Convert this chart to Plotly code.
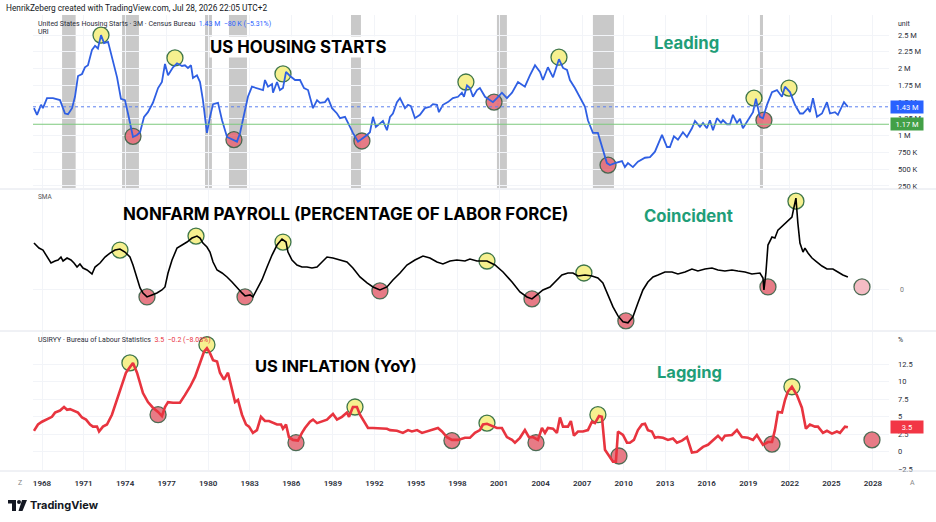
import plotly.graph_objects as go
from plotly.subplots import make_subplots

# ---------------- DATA ----------------
housing_years = [1967.42,1967.64,1967.93,1968.07,1968.36,1968.79,1969.30,1969.66,1969.88,1970.17,1970.38,1970.60,1970.89,1971.10,1971.32,1971.61,1971.83,1972.04,1972.26,1972.48,1972.77,1973.13,1973.42,1973.70,1973.99,1974.21,1974.50,1974.57,1974.86,1975.08,1975.37,1975.65,1976.01,1976.38,1976.66,1976.88,1977.10,1977.46,1977.75,1978.11,1978.32,1978.54,1978.76,1978.90,1979.19,1979.41,1979.62,1979.91,1980.13,1980.35,1980.71,1981.00,1981.36,1981.72,1982.08,1982.30,1982.51,1982.87,1983.16,1983.52,1983.96,1984.10,1984.32,1984.61,1984.68,1984.97,1985.18,1985.40,1985.62,1985.91,1986.27,1986.63,1986.92,1987.21,1987.57,1987.86,1988.07,1988.43,1988.65,1988.94,1989.30,1989.52,1989.88,1990.24,1990.45,1990.82,1991.18,1991.47,1991.68,1991.90,1992.11,1992.40,1992.62,1992.91,1993.13,1993.34,1993.63,1993.85,1994.21,1994.43,1994.64,1994.93,1995.29,1995.65,1996.01,1996.23,1996.52,1996.66,1996.95,1997.31,1997.67,1998.04,1998.32,1998.47,1998.69,1998.90,1999.12,1999.41,1999.62,1999.99,2000.35,2000.56,2000.85,2001.21,2001.57,2001.94,2002.37,2002.87,2003.23,2003.60,2003.96,2004.17,2004.53,2004.90,2005.33,2005.62,2005.91,2006.12,2006.48,2006.84,2007.21,2007.42,2007.78,2008.14,2008.50,2008.79,2009.01,2009.37,2009.88,2010.09,2010.31,2010.67,2011.03,2011.54,2011.90,2012.26,2012.77,2013.13,2013.34,2013.63,2013.92,2014.28,2014.57,2014.93,2015.15,2015.51,2015.73,2016.01,2016.23,2016.45,2016.74,2017.03,2017.17,2017.46,2017.68,2017.89,2018.18,2018.40,2018.61,2018.97,2019.34,2019.55,2019.84,2020.06,2020.35,2020.71,2021.07,2021.43,2021.65,2022.01,2022.37,2022.73,2022.95,2023.31,2023.45,2023.67,2023.96,2024.32,2024.68,2024.90,2025.26,2025.47,2025.91,2026.19]
housing_values = [1.41,1.31,1.46,1.41,1.56,1.56,1.53,1.33,1.32,1.41,1.58,1.89,1.92,2.02,2.05,2.28,2.34,2.30,2.50,2.38,2.40,2.10,1.87,1.55,1.53,1.33,1.05,0.98,1.01,1.05,1.28,1.35,1.49,1.71,1.80,2.07,1.90,2.02,2.08,2.04,2.05,2.01,2.05,1.86,1.90,1.80,1.53,1.04,1.28,1.47,1.49,1.23,0.98,0.94,0.91,1.04,1.26,1.58,1.73,1.71,1.68,1.83,1.73,1.77,1.64,1.80,1.68,1.71,1.95,1.89,1.83,1.83,1.71,1.68,1.41,1.53,1.49,1.50,1.56,1.41,1.33,1.26,1.28,1.13,1.04,0.91,0.96,1.01,1.05,1.28,1.13,1.19,1.22,1.08,1.28,1.33,1.50,1.56,1.41,1.46,1.44,1.26,1.31,1.41,1.43,1.47,1.46,1.35,1.46,1.50,1.56,1.58,1.64,1.58,1.75,1.71,1.58,1.68,1.71,1.58,1.53,1.50,1.56,1.64,1.56,1.64,1.80,1.73,1.90,2.05,1.95,1.83,2.02,1.87,2.14,2.01,1.98,1.83,1.71,1.58,1.43,1.23,1.04,1.04,0.79,0.59,0.56,0.59,0.62,0.53,0.59,0.53,0.61,0.67,0.68,0.76,1.01,0.83,0.83,0.99,0.94,1.05,0.98,1.11,1.22,1.13,1.19,1.11,1.23,1.08,1.26,1.19,1.23,1.17,1.17,1.31,1.19,1.25,1.11,1.23,1.35,1.55,1.28,1.26,1.46,1.65,1.68,1.58,1.73,1.65,1.46,1.33,1.33,1.41,1.35,1.56,1.28,1.33,1.50,1.33,1.35,1.31,1.50,1.43]
housing_peak_years = [1972.26,1977.60,1985.40,1998.61,2005.33,2019.41,2021.94]
housing_peak_values = [2.50,2.16,1.92,1.80,2.17,1.56,1.71]
housing_trough_years = [1974.57,1981.86,1991.10,2000.64,2008.87,2020.13]
housing_trough_values = [0.99,0.94,0.92,1.50,0.56,1.23]
housing_last = 1.43
housing_ref = 1.17

recession_starts = [1969.45,1973.78,1979.77,1981.50,1990.31,2000.85,2007.78,2019.84]
recession_ends = [1970.43,1975.00,1980.27,1982.80,1991.03,2001.57,2009.30,2020.06]

payroll_years = [1967.42,1967.78,1968.07,1968.36,1968.65,1968.94,1969.16,1969.37,1969.52,1969.81,1970.09,1970.31,1970.53,1970.74,1970.96,1971.25,1971.61,1971.83,1972.19,1972.55,1972.91,1973.27,1973.63,1973.99,1974.35,1974.57,1974.86,1975.08,1975.29,1975.58,1975.94,1976.30,1976.66,1976.88,1977.10,1977.39,1977.75,1978.11,1978.47,1978.83,1979.19,1979.41,1979.62,1979.91,1980.13,1980.35,1980.64,1981.00,1981.36,1981.72,1982.08,1982.44,1982.66,1983.02,1983.23,1983.52,1983.88,1984.25,1984.61,1984.97,1985.33,1985.62,1985.76,1986.05,1986.41,1986.77,1987.13,1987.49,1987.86,1988.22,1988.58,1989.01,1989.52,1990.02,1990.45,1990.96,1991.47,1991.90,1992.40,1992.91,1993.34,1993.85,1994.35,1994.93,1995.51,1996.01,1996.52,1996.95,1997.46,1997.96,1998.54,1998.90,1999.41,2000.13,2000.71,2001.29,2001.94,2002.51,2003.02,2003.38,2003.74,2004.17,2004.68,2005.18,2005.54,2005.98,2006.34,2006.70,2007.21,2007.71,2008.14,2008.50,2008.87,2009.23,2009.59,2009.95,2010.31,2010.67,2011.03,2011.39,2011.75,2012.12,2012.48,2012.98,2013.49,2013.92,2014.43,2014.93,2015.36,2015.87,2016.38,2016.81,2017.31,2017.82,2018.25,2018.76,2019.26,2019.84,2020.06,2020.13,2020.27,2020.42,2020.71,2020.92,2021.14,2021.50,2021.86,2022.15,2022.30,2022.44,2022.58,2022.73,2022.95,2023.09,2023.31,2023.60,2023.96,2024.32,2024.68,2025.11,2025.47,2025.83,2026.19]
payroll_values = [4.7,4.2,4.0,3.3,2.7,2.9,3.0,3.3,2.9,3.2,3.0,2.7,2.3,2.6,2.2,2.0,1.6,2.3,2.7,3.3,3.7,4.0,4.1,3.8,3.3,2.5,1.3,0.2,-0.3,-0.7,-0.5,-0.3,0.0,0.3,1.7,3.0,4.2,4.5,4.8,5.2,5.4,5.2,4.7,4.3,3.8,2.8,2.0,1.7,1.3,0.8,0.2,-0.3,-0.6,-0.5,-0.7,0.0,1.0,2.3,3.5,4.5,5.1,4.8,3.8,3.0,2.5,2.3,2.3,2.2,2.3,2.8,3.3,3.2,3.0,2.8,2.2,1.3,0.7,0.3,0.0,0.3,1.0,1.7,2.5,3.0,3.4,3.2,2.8,2.6,2.9,3.0,2.9,3.1,2.9,2.9,2.5,1.8,0.8,-0.2,-0.7,-0.9,-0.5,0.0,0.3,1.0,1.5,1.7,1.7,1.4,1.5,1.4,1.2,0.7,-0.5,-1.7,-2.6,-3.2,-3.3,-2.7,-1.3,0.0,0.8,1.3,1.5,1.8,1.8,1.6,1.8,2.1,1.9,2.1,2.2,2.0,1.9,2.0,1.9,1.8,1.6,1.7,1.2,0.0,1.7,4.5,5.3,5.2,6.0,6.5,7.0,7.3,8.3,9.2,6.7,4.7,3.8,4.2,3.7,3.2,2.8,2.4,2.1,2.1,1.8,1.5,1.3]
payroll_peak_years = [1973.63,1979.12,1985.40,2000.13,2007.13,2022.44]
payroll_peak_values = [4.0,5.4,4.8,2.9,1.7,8.9]
payroll_trough_years = [1975.58,1982.66,1992.40,2003.38,2010.16,2020.42]
payroll_trough_values = [-0.7,-0.7,-0.1,-0.9,-3.1,0.3]
payroll_proj_years = [2027.21]
payroll_proj_values = [0.3]

inflation_years = [1967.42,1967.71,1968.00,1968.36,1968.72,1968.94,1969.30,1969.59,1969.81,1970.02,1970.31,1970.60,1970.89,1971.18,1971.47,1971.68,1971.97,1972.12,1972.40,1972.69,1973.05,1973.42,1973.78,1974.06,1974.35,1974.57,1974.86,1975.08,1975.29,1975.65,1976.01,1976.38,1976.66,1976.88,1977.10,1977.46,1977.96,1978.32,1978.69,1979.05,1979.41,1979.70,1979.91,1980.13,1980.35,1980.64,1980.85,1981.14,1981.43,1981.72,1981.94,1982.15,1982.44,1982.73,1982.95,1983.23,1983.52,1983.81,1984.10,1984.39,1984.68,1984.97,1985.26,1985.40,1985.62,1985.83,1986.12,1986.48,1986.77,1986.99,1987.35,1987.57,1987.86,1988.22,1988.58,1988.79,1989.01,1989.30,1989.66,1990.02,1990.17,1990.45,1990.74,1990.96,1991.32,1991.54,1991.90,1992.40,1992.91,1993.13,1993.63,1994.06,1994.43,1994.71,1995.08,1995.44,1995.80,1996.23,1996.59,1996.88,1997.24,1997.60,1998.04,1998.54,1998.90,1999.26,1999.62,1999.84,2000.13,2000.49,2000.85,2001.21,2001.57,2001.94,2002.15,2002.51,2002.87,2003.16,2003.45,2003.81,2004.10,2004.32,2004.53,2004.90,2005.18,2005.40,2005.62,2005.98,2006.19,2006.41,2006.70,2007.06,2007.42,2007.71,2007.93,2008.22,2008.43,2008.65,2009.01,2009.23,2009.44,2009.59,2009.95,2010.24,2010.45,2010.74,2011.03,2011.32,2011.54,2011.75,2012.04,2012.26,2012.48,2012.84,2013.20,2013.56,2013.85,2014.21,2014.57,2014.93,2015.29,2015.51,2015.73,2016.09,2016.45,2016.81,2017.10,2017.31,2017.82,2018.18,2018.54,2018.97,2019.34,2019.62,2020.06,2020.42,2020.71,2020.92,2021.14,2021.43,2021.65,2021.86,2022.15,2022.51,2022.87,2023.16,2023.45,2023.81,2024.03,2024.39,2024.68,2025.04,2025.40,2025.62,2025.98,2026.19]
inflation_values = [3.0,3.9,4.3,4.7,5.0,5.6,5.9,6.4,6.0,6.1,5.9,5.6,4.9,4.6,3.9,3.6,3.6,2.9,3.6,3.9,5.3,7.4,9.6,11.3,12.1,12.7,11.3,9.6,8.4,7.1,6.3,5.7,5.1,6.4,7.1,7.0,7.0,8.1,9.3,10.7,12.7,14.3,14.8,14.1,13.1,12.9,11.3,10.3,11.3,9.1,7.1,7.4,5.3,3.9,3.6,2.7,3.1,5.0,4.4,4.4,4.1,3.9,3.9,3.3,3.9,2.1,1.7,1.6,2.7,3.4,4.3,4.6,4.1,4.3,4.6,5.0,5.4,4.6,5.0,5.6,5.0,6.4,6.4,5.3,4.1,3.4,3.4,3.4,3.3,3.1,3.0,2.7,3.1,2.9,3.1,2.7,2.9,3.1,3.4,2.9,2.1,1.7,1.7,2.0,2.0,2.7,3.1,3.9,4.0,3.7,3.4,3.4,2.1,1.7,1.3,2.0,3.1,2.1,2.1,1.7,3.4,2.7,3.4,3.3,2.7,4.9,3.6,3.6,4.4,2.3,2.9,2.9,3.1,4.3,4.1,5.1,5.0,0.3,-0.7,-1.4,-1.4,2.9,2.4,1.3,1.3,1.7,3.1,3.9,4.0,3.1,2.9,2.0,2.1,2.0,1.7,1.9,1.3,1.6,2.1,-0.1,0.0,0.3,0.7,1.0,1.7,2.3,1.7,2.3,2.4,3.1,2.1,2.0,1.7,2.4,1.0,1.4,1.4,3.1,5.7,5.6,7.4,8.6,9.3,8.1,6.3,3.3,3.9,3.6,3.6,2.7,3.0,2.6,2.9,2.7,3.6,3.5]
inflation_peak_years = [1974.35,1979.91,1990.60,2000.13,2008.14,2022.15]
inflation_peak_values = [12.7,15.3,6.4,4.1,5.3,9.3]
inflation_trough_years = [1976.38,1986.34,1997.60,2003.67,2009.66,2020.71,2027.93]
inflation_trough_values = [5.3,1.3,1.6,1.3,-0.6,1.1,1.7]
inflation_last = 3.5

year_ticks = list(range(1968, 2029, 3))
housing_tickvals = [0.25,0.5,0.75,1.0,1.25,1.5,1.75,2.0,2.25,2.5]
housing_ticktext = ["250 K","500 K","750 K","1 M","1.25 M","1.5 M","1.75 M","2 M","2.25 M","2.5 M"]
inflation_tickvals = [-2.5,0,2.5,5,7.5,10,12.5]
inflation_ticktext = ["\u22122.5","0","2.5","5","7.5","10","12.5"]

# ---------------- STYLE ----------------
W, H = 936, 522
L, R, T, B = 33, 889, 15, 470
FONT = "Roboto"
TITLE_FONT = "Inter"
YEL, YEL_EDGE = "#f6ef86", "#2f6b3b"
RED, RED_EDGE = "#e5707c", "#3e5f46"
PINK = "#f4b7bf"
GREEN_TXT = "#1f9e78"

def px(x):
    return (x - L) / (R - L)

def py(y):
    return (B - y) / (B - T)

fig = make_subplots(rows=3, cols=1, shared_xaxes=True, vertical_spacing=0.0)

def circles(xs, ys, fill, edge, row, size=16):
    fig.add_trace(go.Scatter(x=xs, y=ys, mode="markers",
                             marker=dict(size=size, color=fill, opacity=0.92,
                                         line=dict(color=edge, width=1.3)),
                             hoverinfo="skip", showlegend=False), row=row, col=1)

# circles first (lines drawn over them)
circles(housing_peak_years, housing_peak_values, YEL, YEL_EDGE, 1)
circles(housing_trough_years, housing_trough_values, RED, RED_EDGE, 1)
circles(payroll_peak_years, payroll_peak_values, YEL, YEL_EDGE, 2)
circles(payroll_trough_years, payroll_trough_values, RED, RED_EDGE, 2)
circles(payroll_proj_years, payroll_proj_values, PINK, RED_EDGE, 2)
circles(inflation_peak_years, inflation_peak_values, YEL, YEL_EDGE, 3)
circles(inflation_trough_years, inflation_trough_values, RED, RED_EDGE, 3)

fig.add_trace(go.Scatter(x=housing_years, y=housing_values, mode="lines",
                         line=dict(color="#2f5fe3", width=1.8), showlegend=False), row=1, col=1)
fig.add_trace(go.Scatter(x=payroll_years, y=payroll_values, mode="lines",
                         line=dict(color="#000000", width=1.6), showlegend=False), row=2, col=1)
fig.add_trace(go.Scatter(x=inflation_years, y=inflation_values, mode="lines",
                         line=dict(color="#e8343f", width=2.6), showlegend=False), row=3, col=1)

# recession shading (top panel)
for s, e in zip(recession_starts, recession_ends):
    fig.add_shape(type="rect", xref="x", yref="y domain", x0=s, x1=e, y0=0, y1=1,
                  fillcolor="#c9c9c9", line=dict(width=0), layer="below")

# reference lines
fig.add_shape(type="line", xref="x domain", yref="y", x0=0, x1=1, y0=housing_last, y1=housing_last,
              line=dict(color="#5b7ff0", width=1, dash="dot"))
fig.add_shape(type="line", xref="x domain", yref="y", x0=0, x1=1, y0=housing_ref, y1=housing_ref,
              line=dict(color="#7cc97c", width=1.2))

# panel separators
for yy in (189, 331, 471):
    fig.add_shape(type="line", xref="paper", yref="paper", x0=px(0), x1=px(936), y0=py(yy), y1=py(yy),
                  line=dict(color="#e0e3eb", width=1))

axis_font = dict(family=FONT, size=7.5, color="#2a2e39")
grid = "#f2f4f8"
fig.update_layout(
    width=W, height=H, autosize=False,
    margin=dict(l=L, r=W - R, t=T, b=H - B),
    paper_bgcolor="white", plot_bgcolor="white",
    showlegend=False,
    font=dict(family=FONT, color="#131722"),
    yaxis=dict(domain=[0.62, 1.0], range=[0.22, 2.80], side="right", tickvals=housing_tickvals,
               ticktext=housing_ticktext, tickfont=axis_font, showgrid=True, gridcolor=grid,
               zeroline=False, ticks="", ticklabelstandoff=8, fixedrange=True),
    yaxis2=dict(domain=[0.308, 0.615], range=[-4, 10], side="right", tickvals=[0], ticktext=["0"],
                tickfont=dict(family=FONT, size=7, color="#777"), showgrid=True, gridcolor=grid,
                zeroline=False, ticks="", ticklabelstandoff=10),
    yaxis3=dict(domain=[0.0, 0.303], range=[-2.6, 17.1], side="right", tickvals=inflation_tickvals,
                ticktext=inflation_ticktext, tickfont=axis_font, showgrid=True, gridcolor=grid,
                zeroline=False, ticks="", ticklabelstandoff=8),
)
for ax in ("xaxis", "xaxis2", "xaxis3"):
    fig.layout[ax].update(range=[1967.35, 2029.16], tickvals=year_ticks, showgrid=True, gridcolor=grid,
                          zeroline=False, showline=False, ticks="")
fig.layout.xaxis.update(showticklabels=False)
fig.layout.xaxis2.update(showticklabels=False)
fig.layout.xaxis3.update(showticklabels=True, ticktext=[str(y) for y in year_ticks],
                         tickfont=dict(family=FONT, size=8, color="#2a2e39", weight=600),
                         ticklabelstandoff=7)

def note(x, y, text, size=7, color="#131722", anchor="left", family=FONT, bg=None, vanchor="middle"):
    fig.add_annotation(xref="paper", yref="paper", x=px(x), y=py(y), text=text, showarrow=False,
                       xanchor=anchor, yanchor=vanchor, font=dict(family=family, size=size, color=color),
                       bgcolor=bg, borderpad=0)

note(5, 8, "HenrikZeberg created with TradingView.com, Jul 28, 2026 22:05 UTC+2", size=8.3)
note(37, 24, "United States Housing Starts \u00b7 3M \u00b7 Census Bureau  "
     "<span style='color:#2962ff'>1.43 M  \u221280 K (\u22125.31%)</span>", size=7, color="#2a2e39")
note(37, 32, "URI", size=7, color="#2a2e39")
note(37, 197, "SMA", size=6.5, color="#555")
note(37, 340, "USIRYY \u00b7 Bureau of Labour Statistics  "
     "<span style='color:#e8343f'>3.5  \u22120.2 (\u22128.08%)</span>", size=7, color="#2a2e39")
note(897, 24, "unit", size=7, color="#2a2e39")
note(897, 340, "%", size=7, color="#2a2e39")
note(20, 483, "Z", size=7, color="#888", anchor="center")
note(912, 483, "A", size=7, color="#888", anchor="center")

note(298, 47, "<b>US HOUSING STARTS</b>", size=16.8, anchor="center", family=TITLE_FONT, bg="white", color="#000")
note(686, 43, "<b>Leading</b>", size=16.7, anchor="center", family=TITLE_FONT, color=GREEN_TXT)
note(345, 214, "<b>NONFARM PAYROLL (PERCENTAGE OF LABOR FORCE)</b>", size=16.9, anchor="center",
     family=TITLE_FONT, color="#000")
note(688, 216, "<b>Coincident</b>", size=16.7, anchor="center", family=TITLE_FONT, color=GREEN_TXT)
note(336, 366, "<b>US INFLATION (YoY)</b>", size=16.5, anchor="center", family=TITLE_FONT, color="#000")
note(689, 372, "<b>Lagging</b>", size=16.5, anchor="center", family=TITLE_FONT, color=GREEN_TXT)

# last value labels on price scales
for yref, val, txt, bg in (("y", housing_last, "1.43 M", "#2962ff"), ("y", housing_ref, "1.17 M", "#43a047"),
                           ("y3", inflation_last, "3.5", "#f23645")):
    fig.add_annotation(xref="paper", yref=yref, x=px(907), y=val, text=txt, showarrow=False,
                       xanchor="center", yanchor="middle", width=30, height=10,
                       font=dict(family=FONT, size=7.5, color="white"), bgcolor=bg)

# TradingView logo
def rect(x0, y0, x1, y1):
    fig.add_shape(type="rect", xref="paper", yref="paper", x0=px(x0), x1=px(x1), y0=py(y0), y1=py(y1),
                  fillcolor="#131722", line=dict(width=0))
rect(8, 500, 16, 503.5)
rect(12, 500, 16, 511)
fig.add_shape(type="circle", xref="paper", yref="paper", x0=px(17), x1=px(21), y0=py(500), y1=py(504),
              fillcolor="#131722", line=dict(width=0))
fig.add_shape(type="path", xref="paper", yref="paper",
              path="M %f,%f L %f,%f L %f,%f L %f,%f Z" % (px(22), py(500), px(27), py(500), px(22.5), py(511), px(18.5), py(511)),
              fillcolor="#131722", line=dict(width=0))
note(29, 505, "<b>TradingView</b>", size=11, family=TITLE_FONT, color="#131722")

fig.write_html("out.html", config={"displayModeBar": False},
               post_script="document.body.style.margin='0';document.body.style.padding='0';")
